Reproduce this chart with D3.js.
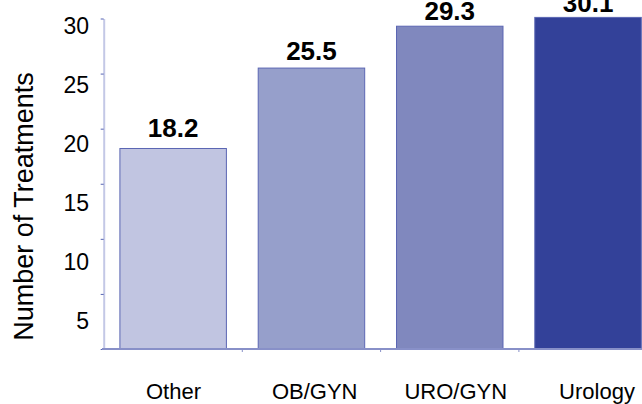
<!DOCTYPE html>
<html>
<head>
<meta charset="utf-8">
<script src="https://cdn.jsdelivr.net/npm/d3@7"></script>
<style>
  html, body { margin: 0; padding: 0; background: #fff; }
  svg { display: block; font-family: "Liberation Sans", Arial, sans-serif; }
</style>
</head>
<body>
<svg id="chart" width="642" height="404"></svg>
<script>
const categories = ["Other", "OB/GYN", "URO/GYN", "Urology"];
const values = [18.2, 25.5, 29.3, 30.1];
const barColors = ["#c1c5e1", "#969fcb", "#8088be", "#334199"];
const yTicks = [0, 5, 10, 15, 20, 25, 30];
const yTitle = "Number of Treatments";

const svg = d3.select("#chart");

const y = d3.scaleLinear().domain([0, 30]).range([349, 18.5]);
// label positions as they appear in the source rendering
const yLabelPos = d3.scaleLinear().domain([0, 30]).range([378.7, 25]);
const valueLabelPos = d3.scaleLinear().domain([0, 30]).range([328, 12.7]);

const x = d3.scaleBand().domain(categories).range([104, 657.2])
  .paddingInner(0.23).paddingOuter(0.115);
const xLabelPos = d3.scalePoint().domain(categories).range([173.5, 597]);

const data = categories.map((c, i) => ({ c, v: values[i], color: barColors[i] }));

// bars
svg.append("g").selectAll("rect").data(data).join("rect")
  .attr("x", d => x(d.c))
  .attr("y", d => y(d.v))
  .attr("width", x.bandwidth())
  .attr("height", d => y(0) - y(d.v))
  .attr("fill", d => d.color)
  .attr("stroke", "#5b66b3")
  .attr("stroke-width", 1);

// y axis
const yAxis = svg.append("g")
  .attr("transform", "translate(103.7,0)")
  .call(d3.axisLeft(y).tickValues(yTicks).tickSize(3).tickSizeOuter(0)
    .tickFormat(d => d === 0 ? "" : d));
yAxis.select(".domain").attr("stroke", "#c4c8e6").attr("stroke-width", 2);
yAxis.selectAll(".tick line").attr("stroke", "#5563b3").attr("stroke-width", 1);
yAxis.selectAll(".tick text")
  .attr("x", -14.7)
  .attr("y", d => yLabelPos(d) - y(d))
  .attr("dy", "0.36em")
  .attr("fill", "#000")
  .style("font-size", "23px")
  .style("font-family", "'Liberation Sans', Arial, sans-serif");

// bottom axis
const x0 = x.range()[0];
svg.append("path")
  .attr("d", `M${x0 - 2},${y(0)}H${x.range()[1]}`)
  .attr("stroke", "#8890c8").attr("stroke-width", 2).attr("fill", "none");
svg.append("g").selectAll("line").data(d3.range(1, categories.length)).join("line")
  .attr("x1", i => x0 + i * x.step())
  .attr("x2", i => x0 + i * x.step())
  .attr("y1", y(0))
  .attr("y2", y(0) + 3)
  .attr("stroke", "#8890c8").attr("stroke-width", 1);

// category labels
svg.append("g").selectAll("text").data(categories).join("text")
  .attr("x", d => xLabelPos(d))
  .attr("y", 399)
  .attr("text-anchor", "middle")
  .style("font-size", "22px")
  .attr("fill", "#000")
  .text(d => d);

// value labels
svg.append("g").selectAll("text").data(data).join("text")
  .attr("x", d => x(d.c) + x.bandwidth() / 2)
  .attr("y", d => valueLabelPos(d.v))
  .attr("text-anchor", "middle")
  .style("font-size", "26px")
  .style("font-weight", "bold")
  .attr("fill", "#000")
  .text(d => d.v.toFixed(1));

// y title
svg.append("text")
  .attr("transform", "translate(33,206.5) rotate(-90)")
  .attr("text-anchor", "middle")
  .style("font-size", "27px")
  .attr("fill", "#000")
  .text(yTitle);
</script>
</body>
</html>
